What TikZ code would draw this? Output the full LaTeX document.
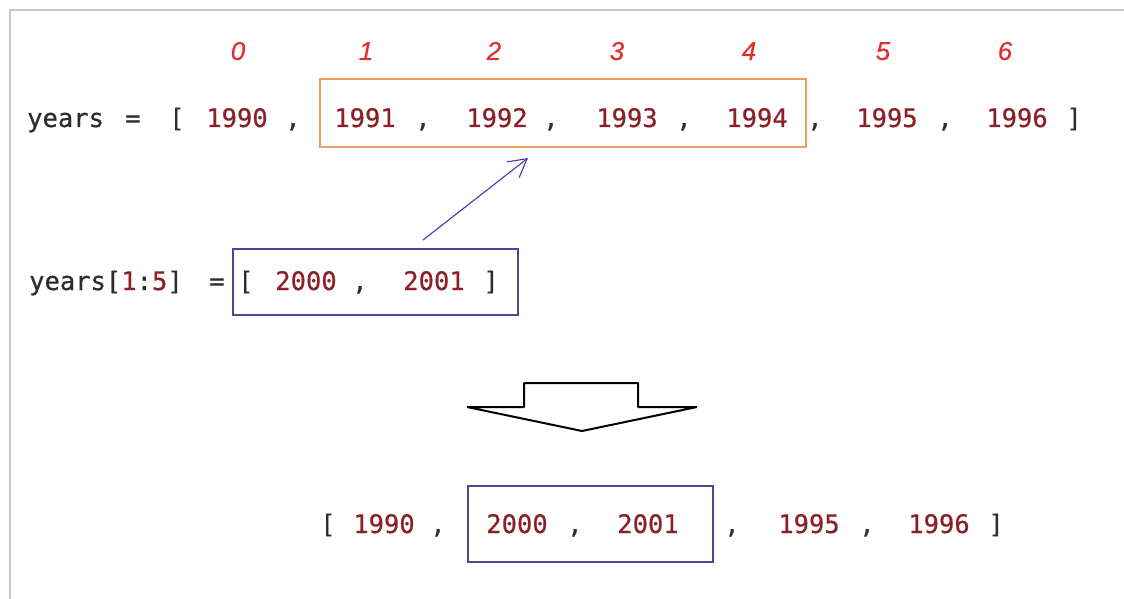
\documentclass[tikz,border=0pt]{standalone}
\usepackage{fontspec}
\setmonofont[FakeBold=0.6]{DejaVu Sans Mono}
\newfontfamily\idxfont[FakeBold=0.4]{Liberation Sans}
\usetikzlibrary{arrows.meta}
\definecolor{numred}{RGB}{140,32,40}
\definecolor{codeink}{RGB}{45,45,45}
\definecolor{idxred}{RGB}{225,45,45}
\definecolor{selorange}{RGB}{236,160,90}
\definecolor{boxblue}{RGB}{72,72,150}
\definecolor{arrblue}{RGB}{60,60,175}
\definecolor{framegray}{RGB}{200,200,200}
\tikzset{
  code/.style={inner sep=0pt, anchor=base, text=codeink, font=\ttfamily\fontsize{25.5}{25.5}\selectfont},
  num/.style={code, text=numred},
  idx/.style={inner sep=0pt, anchor=base, text=idxred, font=\idxfont\itshape\fontsize{26}{26}\selectfont},
  obox/.style={draw=selorange, line width=1.5pt, inner sep=0pt},
  bbox/.style={draw=boxblue, line width=1.5pt, inner sep=0pt},
  bigarrow/.style={draw=black, fill=white, line width=2pt, line join=bevel},
}
\begin{document}
\begin{tikzpicture}[x=1pt,y=-1pt]
\useasboundingbox (0,0) rectangle (1124,599);
% frame
\draw[framegray, line width=2pt] (10,599) -- (10,10) -- (1124,10);
% index labels
\node[idx] (i0) at (238,60) {0};
\node[idx] (i1) at (366,60) {1};
\node[idx] (i2) at (494,60) {2};
\node[idx] (i3) at (617,60) {3};
\node[idx] (i4) at (749,60) {4};
\node[idx] (i5) at (883,60) {5};
\node[idx] (i6) at (1005,60) {6};
% row 1
\node[code, anchor=base west] (y1) at (27,127) {years};
\node[code] (eq1) at (133,127) {=};
\node[code] (lb1) at (177,127) {[};
\node[num] (a0) at (237,127) {1990};
\node[code] (c0) at (293,127) {,};
\node[num] (a1) at (365,127) {1991};
\node[code] (c1) at (423,127) {,};
\node[num] (a2) at (497,127) {1992};
\node[code] (c2) at (551,127) {,};
\node[num] (a3) at (627,127) {1993};
\node[code] (c3) at (684,127) {,};
\node[num] (a4) at (757,127) {1994};
\node[code] (c4) at (815,127) {,};
\node[num] (a5) at (887,127) {1995};
\node[code] (c5) at (945,127) {,};
\node[num] (a6) at (1017,127) {1996};
\node[code] (rb1) at (1074,127) {]};
\node[obox, minimum width=486pt, minimum height=68pt] (sel) at (563,113) {};
% row 2
\node[code, anchor=base west] (lhs) at (29,290) {years[\textcolor{numred}{1}:\textcolor{numred}{5}]};
\node[code] (eq2) at (217,290) {=};
\node[code] (lb2) at (246,290) {[};
\node[num] (b0) at (306,290) {2000};
\node[code] (c6) at (360,290) {,};
\node[num] (b1) at (434,290) {2001};
\node[code] (rb2) at (491,290) {]};
\node[bbox, minimum width=285pt, minimum height=66pt] (newvals) at (375.5,282) {};
% arrow from new values to selection
\coordinate (atail) at (423,240);
\coordinate (ahead) at (528,158);
\draw[arrblue, line width=1.1pt, -{Straight Barb[length=18pt,width=20pt,line width=1.1pt]}] (atail) -- (ahead);
% big down arrow
\draw[bigarrow] (524,383) -- (638,383) -- (638,407) -- (697,407) -- (582,431) -- (467,407) -- (524,407) -- cycle;
% row 3
\node[code] (lb3) at (328,533) {[};
\node[num] (r0) at (384,533) {1990};
\node[code] (c7) at (438,533) {,};
\node[num] (r1) at (517,533) {2000};
\node[code] (c8) at (575,533) {,};
\node[num] (r2) at (648,533) {2001};
\node[code] (c9) at (732,533) {,};
\node[num] (r3) at (809,533) {1995};
\node[code] (c10) at (867,533) {,};
\node[num] (r4) at (939,533) {1996};
\node[code] (rb3) at (996,533) {]};
\node[bbox, minimum width=245pt, minimum height=76pt] (res) at (590.5,524) {};
\end{tikzpicture}
\end{document}
